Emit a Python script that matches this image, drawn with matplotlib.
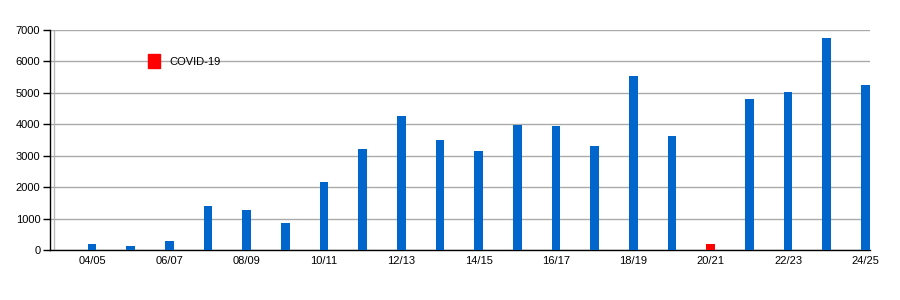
import matplotlib.pyplot as plt
from matplotlib.patches import Patch

seasons = ["04/05", "05/06", "06/07", "07/08", "08/09", "09/10", "10/11",
           "11/12", "12/13", "13/14", "14/15", "15/16", "16/17", "17/18",
           "18/19", "19/20", "20/21", "21/22", "22/23", "23/24", "24/25"]
values = [190, 130, 290, 1400, 1270, 860, 2160, 3210, 4260, 3500, 3150,
          3980, 3950, 3310, 5540, 3630, 190, 4800, 5030, 6750, 5250]
covid_seasons = ["20/21"]

BLUE = "#0066cc"
RED = "#ff0000"

plt.rcParams["font.family"] = ["Liberation Sans", "DejaVu Sans"]

fig = plt.figure(figsize=(9, 3), dpi=100)
ax = fig.add_axes([50 / 900, 50 / 300, 820 / 900, 220 / 300])

x = list(range(len(seasons)))
colors = [RED if s in covid_seasons else BLUE for s in seasons]
ax.bar(x, values, width=0.23, color=colors, zorder=3)

ax.set_xlim(-1.085, len(seasons) - 1 + 0.12)
ax.set_ylim(0, 7000)
ax.set_yticks(range(0, 7001, 1000))
ax.set_xticks(x[::2])
ax.set_xticklabels(seasons[::2])

ax.grid(axis="y", color="#aaaaaa", linewidth=1, zorder=0)
ax.axvline(-0.985, color="#bbbbbb", linewidth=1, zorder=1)
for side in ("top", "right"):
    ax.spines[side].set_visible(False)
for side in ("left", "bottom"):
    ax.spines[side].set_color("black")
    ax.spines[side].set_linewidth(1)

ax.tick_params(axis="y", length=5, width=1, labelsize=8, pad=2)
ax.tick_params(axis="x", length=0, labelsize=8, pad=4)

# legend square sits on the 6000 gridline
handles = [Patch(facecolor=RED, edgecolor=RED, label="COVID-19")]
ax.legend(handles=handles, loc="upper left", bbox_to_anchor=(0.119, 0.89),
          frameon=False, fontsize=8, handlelength=1.15, handleheight=1.6,
          handletextpad=0.85, borderaxespad=0, borderpad=0)

fig.savefig("out.png", dpi=100)
